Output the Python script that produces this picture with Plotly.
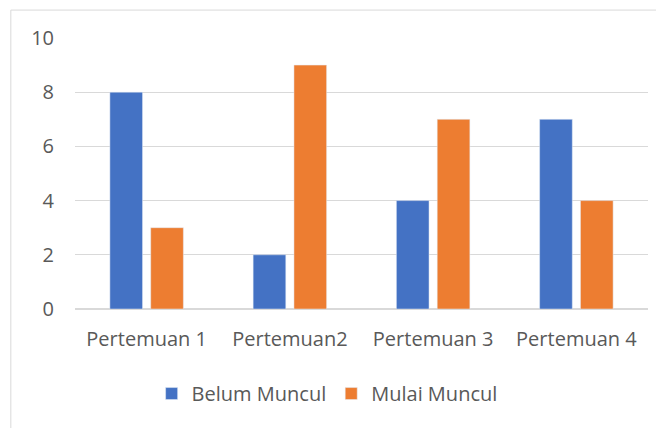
import plotly.graph_objects as go

categories = ["Pertemuan 1", "Pertemuan2", "Pertemuan 3", "Pertemuan 4"]
belum_muncul = [8, 2, 4, 7]
mulai_muncul = [3, 9, 7, 4]
y_ticks = [0, 2, 4, 6, 8, 10]

font_main = "'Open Sans', sans-serif"
grey_text = "#595959"

fig = go.Figure()
fig.add_trace(go.Bar(x=categories, y=belum_muncul, name="Belum Muncul", marker_color="#4472C4"))
fig.add_trace(go.Bar(x=categories, y=mulai_muncul, name="Mulai Muncul", marker_color="#ED7D31"))

# the page body has an 8px margin, so the figure is a bit smaller than the window
fig.update_layout(
    width=656,
    height=420,
    paper_bgcolor="white",
    plot_bgcolor="white",
    barmode="group",
    bargap=0.43,
    bargroupgap=0.2,
    margin=dict(l=67, r=16, t=30, b=119),
    font=dict(family=font_main, size=20, color=grey_text),
    legend=dict(
        orientation="h",
        x=0.44,
        xanchor="center",
        y=-0.24,
        yanchor="top",
        font=dict(size=20, color=grey_text),
        itemwidth=30,
        tracegroupgap=0,
    ),
    xaxis=dict(showgrid=False, showline=False, ticks="", ticklabelstandoff=16),
    yaxis=dict(
        range=[0, 10],
        tickvals=y_ticks,
        showgrid=True,
        gridcolor="#d9d9d9",
        gridwidth=1,
        zeroline=True,
        zerolinecolor="#d9d9d9",
        showline=False,
        ticks="",
        ticklabelstandoff=20,
    ),
    shapes=[
        # chart area border
        dict(
            type="rect",
            xref="paper",
            yref="paper",
            x0=-0.112,
            x1=1.05,
            y0=-0.5,
            y1=1.103,
            line=dict(color="#d9d9d9", width=1),
            layer="below",
        )
    ],
)

fig.write_html("out.html")
